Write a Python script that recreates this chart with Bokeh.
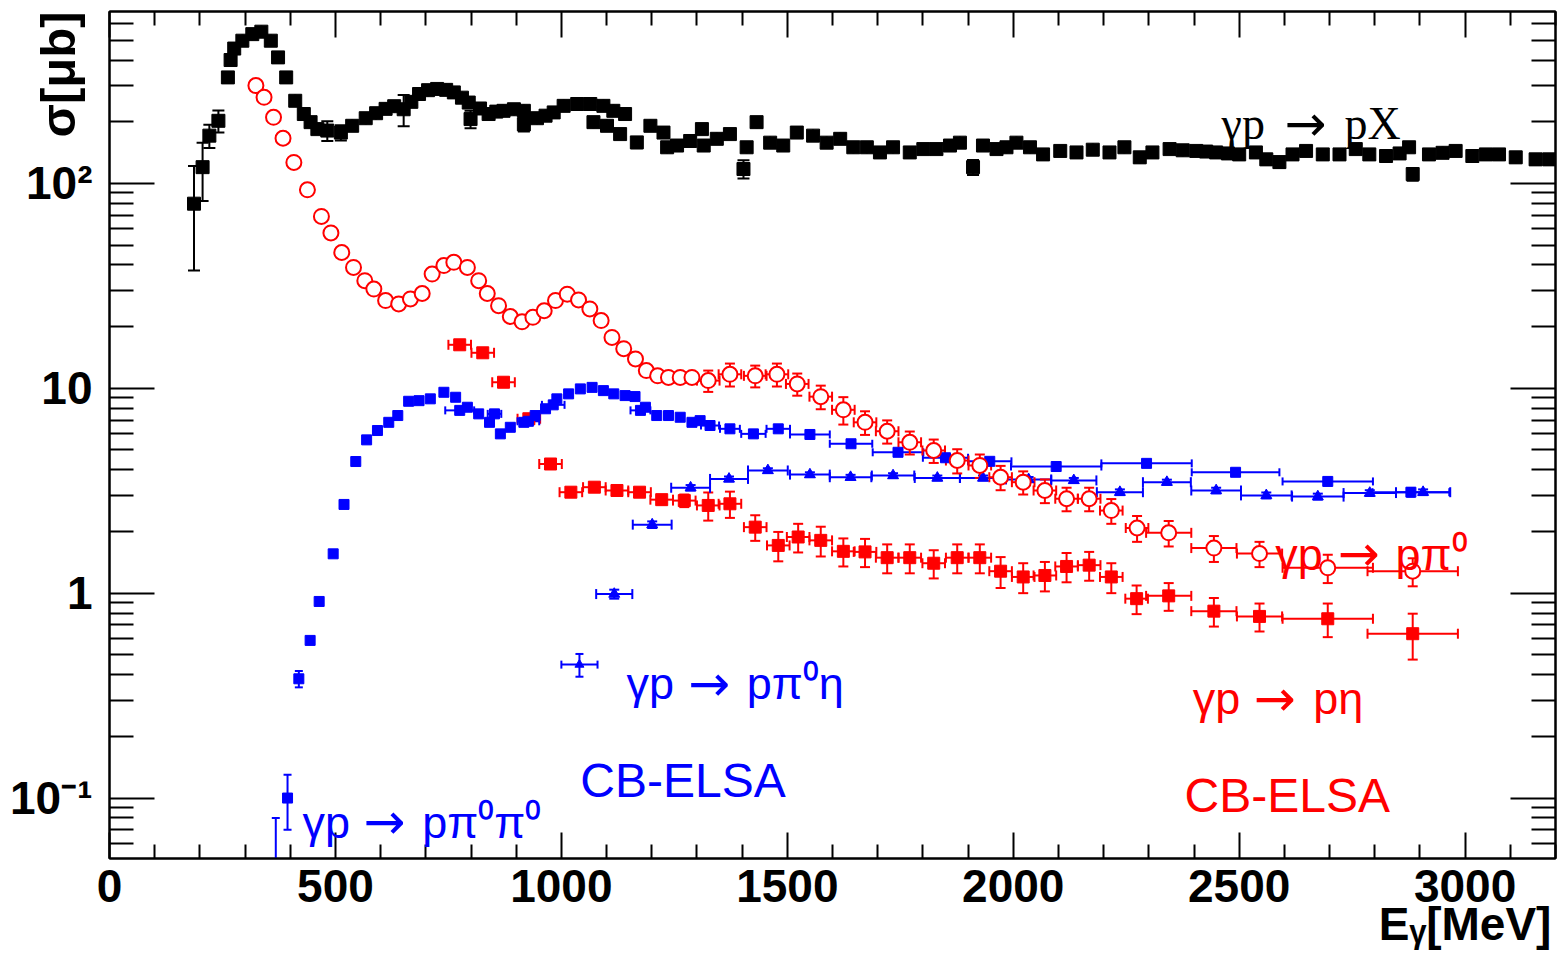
import math
from bokeh.plotting import figure
from bokeh.models import (ColumnDataSource, Whisker, TeeHead, Label, LogAxis,
                          LinearAxis, FixedTicker, Range1d, CustomJSTickFormatter)
from bokeh.embed import file_html
from bokeh.resources import INLINE

# ---------------------------------------------------------------- data
# gamma p -> p X  (total, black squares): energy [MeV], sigma [mub], error
px_e = [187, 206, 221, 241, 262, 268, 276, 294, 316, 336, 357, 373, 391, 411, 430,
        445, 460, 482, 512, 537, 567, 590, 611, 630, 651, 668, 685, 705, 725, 745,
        762, 780, 795, 799, 820, 839, 856, 872, 895, 917, 917, 946, 965, 983, 1005,
        1035, 1064, 1071, 1093, 1101, 1115, 1130, 1141, 1167, 1197, 1226, 1234, 1256,
        1285, 1311, 1315, 1344, 1373, 1403, 1410, 1432, 1462, 1491, 1521, 1557, 1587,
        1617, 1646, 1676, 1705, 1734, 1771, 1801, 1830, 1860, 1882, 1911, 1933, 1963,
        1985, 2007, 2037, 2066, 2104, 2140, 2176, 2213, 2246, 2280, 2308, 2346, 2375,
        2405, 2427, 2449, 2475, 2500, 2537, 2560, 2589, 2618, 2648, 2685, 2722, 2758,
        2788, 2825, 2855, 2876, 2884, 2920, 2950, 2979, 3016, 3046, 3075, 3112, 3156,
        3186]
px_s = [79.6, 120, 171, 202, 329, 400, 455, 497, 535, 550, 497, 412, 329, 253, 218,
        199, 184, 181, 177, 191, 208, 220, 231, 238, 230, 250, 273, 285, 289, 286,
        278, 262, 248, 206, 232, 218, 224, 226, 230, 226, 194, 208, 214, 222, 239,
        244, 244, 199, 239, 191, 226, 174, 218, 158.5, 191, 177, 150, 153,
        161, 184, 153, 165, 174, 117.5, 150, 199, 158, 153, 177, 171, 158,
        165, 150, 150, 141.6, 150, 141.6, 147, 147, 153, 158, 120, 153, 147,
        150, 158, 150, 138.5, 144, 141.6, 146, 141.6, 150, 134, 141.6, 147, 145,
        144, 143, 141.6, 140, 138.5, 141.6, 131, 127, 138.5, 144, 138.5, 138.5, 147,
        138.5, 136, 140, 150, 111, 138.5, 141, 144, 136, 138.5, 138.5, 134, 131,
        131]
px_err = [42, 38, 22, 25, 20, 15, 10, 8, 8, 8, 8, 8, 8, 8, 8,
          8, 8, 20, 15, 8, 8, 8, 8, 8, 40, 8, 8, 8, 8, 8,
          8, 8, 8, 20, 8, 8, 8, 8, 8, 8, 15, 8, 8, 8, 8,
          8, 8, 8, 8, 8, 8, 8, 8, 10, 8, 8, 8, 8,
          8, 8, 8, 8, 8, 12, 8, 10, 8, 8, 8, 8, 8,
          8, 8, 8, 8, 8, 8, 8, 8, 8, 8, 10, 8, 8,
          8, 8, 8, 8, 8, 8, 8, 8, 8, 8, 8, 8, 8,
          8, 8, 8, 8, 8, 8, 8, 8, 8, 8, 8, 8, 8,
          8, 8, 8, 8, 8, 8, 8, 8, 8, 8, 8, 8, 8,
          8]

# gamma p -> p pi0 (red open circles)
ppi0_e = [324, 342, 363, 384, 408, 438, 469, 490, 514, 540, 565, 585, 611, 640, 666,
          692, 714, 740, 762, 792, 817, 836, 861, 887, 913, 937, 962, 987, 1013, 1038,
          1063, 1088, 1112, 1138, 1164, 1188, 1213, 1237, 1263, 1289, 1325, 1373, 1429,
          1477, 1522, 1574, 1624, 1672, 1721, 1771, 1824, 1876, 1926, 1972, 2022, 2070,
          2118, 2168, 2217, 2274, 2344, 2444, 2545, 2696, 2884]
ppi0_s = [300, 263, 210, 166, 126.5, 93, 69, 57.3, 46, 38.9, 33.5, 30.5, 26.8, 25.8, 27.3,
          29, 36.1, 39.7, 41.2, 38.9, 33.5, 29, 25.3, 22.4, 21.1, 22.2, 23.9, 26.8, 28.8, 27,
          24.4, 21.4, 17.7, 15.6, 13.9, 12.2, 11.5, 11.3, 11.3, 11.3, 10.9, 11.7, 11.5,
          11.7, 10.5, 9.1, 7.85, 6.82, 6.17, 5.45, 4.97, 4.44, 4.2, 3.68, 3.48, 3.17,
          2.89, 2.89, 2.53, 2.08, 1.97, 1.66, 1.56, 1.33, 1.28]
ppi0_xerr = [12] * 40 + [25] * 20 + [50, 50, 50, 100, 100]
ppi0_yerr = ([0.0] * 40 +
             [1.3, 1.5, 1.4, 1.5, 1.3, 1.2, 1.2, 0.9, 0.8, 0.7, 0.65, 0.6, 0.55, 0.5, 0.45, 0.42,
              0.38, 0.38, 0.35, 0.3, 0.28, 0.24, 0.22, 0.21, 0.2])

# gamma p -> p eta (red filled squares)
peta_e = [775, 826, 872, 928, 976, 1021, 1073, 1123, 1173, 1222, 1272, 1325, 1373, 1429,
          1480, 1524, 1574, 1624, 1672, 1721, 1771, 1824, 1876, 1926, 1972, 2022, 2070,
          2118, 2168, 2217, 2273, 2344, 2444, 2545, 2696, 2884]
peta_s = [16.3, 14.9, 10.7, 7.1, 4.27, 3.11, 3.29, 3.17, 3.11, 2.86, 2.83, 2.68, 2.73, 2.1,
          1.71, 1.88, 1.81, 1.6, 1.59, 1.49, 1.49, 1.40, 1.49, 1.49, 1.28, 1.2, 1.22,
          1.35, 1.37, 1.2, 0.94, 0.97, 0.817, 0.77, 0.75, 0.634]
peta_xerr = [25] * 30 + [25, 50, 50, 50, 100, 100]
peta_yerr = [0.5, 0.5, 0.4, 0.3, 0.2, 0.15, 0.15, 0.15, 0.15, 0.15, 0.2, 0.42, 0.4, 0.3,
             0.28, 0.3, 0.3, 0.25, 0.25, 0.24, 0.24, 0.22, 0.24, 0.24, 0.22, 0.2, 0.2,
             0.22, 0.22, 0.2, 0.15, 0.15, 0.13, 0.12, 0.14, 0.16]

# gamma p -> p pi0 pi0 (blue squares)
p2pi_e = [368, 394, 419, 444, 464, 495, 519, 545, 569, 593, 618, 638, 662, 685, 710,
          740, 766, 792, 817, 841, 865, 887, 917, 942, 965, 990, 1016, 1042, 1068, 1093,
          1116, 1141, 1163, 1186, 1211, 1237, 1263, 1289, 1307,
          1329, 1373, 1425, 1480, 1550, 1641, 1745, 1850, 1948, 2095, 2295, 2492, 2696,
          2880, 775, 852, 927, 982, 1175]
p2pi_s = [0.03, 0.10, 0.382, 0.588, 0.911, 1.556, 2.71, 4.39, 5.6, 6.22, 6.82, 7.36, 8.64,
          8.7, 8.88, 9.56, 9.04, 8.08, 7.5, 6.82, 5.99, 6.45, 6.82, 7.36, 7.94, 8.88, 9.39,
          9.93, 10.1, 9.74, 9.39, 9.21, 9.11, 8.08, 7.36, 7.36, 7.22, 6.82, 6.95,
          6.58, 6.34, 5.99, 6.34, 5.95, 5.36, 4.87, 4.58, 4.40, 4.15, 4.30, 3.89, 3.51,
          3.11, 7.8, 7.5, 6.9, 8.3, 7.8]
p2pi_xerr = ([6] * 39 +
             [20, 22, 27, 26, 44, 47, 56, 50, 48, 100, 100, 97, 100, 85] +
             [32, 15, 24, 25, 22])
p2pi_yerr = ([0.05, 0.03, 0.035, 0.02, 0.02, 0.03, 0.05, 0.08, 0.1, 0.1, 0.1, 0.1, 0.1,
              0.1, 0.1, 0.1, 0.1, 0.1, 0.1, 0.1, 0.1, 0.1, 0.1, 0.1, 0.1, 0.1, 0.1, 0.1,
              0.1, 0.1, 0.1, 0.1, 0.1, 0.1, 0.1, 0.1, 0.1, 0.1, 0.1] +
             [0.15] * 14 + [0.15] * 5)

# gamma p -> p pi0 eta (blue triangles)
pieta_e = [1117, 1201, 1286, 1371, 1457, 1550, 1640, 1734, 1832, 1933, 2034, 2134, 2236,
           2340, 2449, 2560, 2674, 2789, 2907]
pieta_s = [0.99, 2.16, 3.27, 3.61, 3.97, 3.79, 3.68, 3.75, 3.65, 3.65, 3.59, 3.55, 3.11,
           3.48, 3.17, 3.0, 2.96, 3.08, 3.11]
pieta_xerr = [40, 43, 43, 42, 44, 44, 46, 47, 50, 51, 50, 50, 51, 53, 55, 56, 57, 58, 60]
pieta_yerr = [0.05, 0.08, 0.1, 0.1, 0.1, 0.1, 0.1, 0.1, 0.1, 0.1, 0.1, 0.1, 0.1, 0.1,
              0.1, 0.1, 0.1, 0.1, 0.1]

# legend entry marker for p pi0 eta
key_e = [1040]
key_s = [0.448]
key_xerr = [40]
key_yerr = [0.057]

x_major = [0, 500, 1000, 1500, 2000, 2500, 3000]
x_minor = [v for v in range(100, 3300, 100) if v % 500 != 0]
# the energy title sits right under the last energy label
x_labels = {3000: "3000\nE\u1d67[MeV]"}
y_major = [0.1, 1, 10, 100]
y_minor = ([k * 0.01 for k in range(6, 10)] + [k * 0.1 for k in range(2, 10)] +
           [float(k) for k in range(2, 10)] + [k * 10.0 for k in range(2, 10)] +
           [k * 100.0 for k in range(2, 7)])
y_labels = {0.1: "10\u207b\u00b9", 1: "1", 10: "10", 100: "10\u00b2"}

RED = "#ff0000"
BLUE = "#0000ff"
BLACK = "#000000"

# ---------------------------------------------------------------- figure
p = figure(width=1557, height=956, y_axis_type="log",
           x_range=Range1d(0, 3200), y_range=Range1d(0.0507, 690),
           output_backend="svg", toolbar_location=None,
           min_border_left=109, min_border_right=2, min_border_top=11,
           min_border_bottom=98)
p.xgrid.grid_line_color = None
p.ygrid.grid_line_color = None
p.outline_line_color = BLACK
p.outline_line_width = 2
p.background_fill_color = "white"
p.border_fill_color = "white"


def style_axis(ax, major_in, minor_in, show_labels):
    ax.major_tick_in = major_in
    ax.major_tick_out = 0
    ax.minor_tick_in = minor_in
    ax.minor_tick_out = 0
    ax.major_tick_line_width = 2
    ax.minor_tick_line_width = 2
    ax.major_tick_line_color = BLACK
    ax.minor_tick_line_color = BLACK
    ax.axis_line_width = 2
    ax.axis_line_color = BLACK
    if show_labels:
        ax.major_label_text_font = "Liberation Sans"
        ax.major_label_text_font_style = "bold"
        ax.major_label_text_font_size = "46px"
        ax.major_label_text_color = BLACK
        ax.axis_label_text_font = "Liberation Sans"
        ax.axis_label_text_font_style = "bold"
        ax.axis_label_text_font_size = "49px"
        ax.axis_label_text_color = BLACK
    else:
        # mirrored frame axis: ticks only
        ax.formatter = CustomJSTickFormatter(code="return ''")
        ax.major_label_text_font_size = "2px"
        ax.major_label_standoff = 0


def title_at_end(ax, orientation):
    # put the axis title at the far end of the axis, ending there
    for opt in ("end", "right"):
        try:
            ax.axis_label_align = opt
            break
        except Exception:
            continue
    try:
        ax.axis_label_orientation = orientation
    except Exception:
        pass


xt = FixedTicker(ticks=x_major, minor_ticks=x_minor)
yt = FixedTicker(ticks=y_major, minor_ticks=y_minor)

bottom = p.xaxis[0]
bottom.ticker = xt
style_axis(bottom, 26, 14, True)
bottom.major_label_standoff = 1
bottom.major_label_overrides = x_labels
bottom.major_label_text_line_height = 0.74

left = p.yaxis[0]
left.ticker = yt
style_axis(left, 45, 24, True)
left.major_label_standoff = 17
left.major_label_overrides = y_labels
left.axis_label = "\u03c3[\u03bcb]"
left.axis_label_standoff = -51
title_at_end(left, math.pi / 2)

top = LinearAxis(ticker=FixedTicker(ticks=x_major, minor_ticks=x_minor))
style_axis(top, 26, 14, False)
p.add_layout(top, "above")

right = LogAxis(ticker=FixedTicker(ticks=y_major, minor_ticks=y_minor))
style_axis(right, 45, 24, False)
p.add_layout(right, "right")


# ---------------------------------------------------------------- series
def error_bars(e, s, xerr, yerr, color, cap=10):
    lo = [max(v - d, 0.01) for v, d in zip(s, yerr)]
    hi = [v + d for v, d in zip(s, yerr)]
    src = ColumnDataSource(dict(
        x=e, y=s, ylo=lo, yhi=hi,
        xlo=[v - d for v, d in zip(e, xerr)], xhi=[v + d for v, d in zip(e, xerr)]))
    p.add_layout(Whisker(source=src, base="x", lower="ylo", upper="yhi",
                         dimension="height", line_color=color, line_width=2,
                         upper_head=TeeHead(size=cap, line_color=color, line_width=2),
                         lower_head=TeeHead(size=cap, line_color=color, line_width=2)))
    p.add_layout(Whisker(source=src, base="y", lower="xlo", upper="xhi",
                         dimension="width", line_color=color, line_width=2,
                         upper_head=TeeHead(size=cap, line_color=color, line_width=2),
                         lower_head=TeeHead(size=cap, line_color=color, line_width=2)))
    return src


# total cross section
src_px = error_bars(px_e, px_s, [0] * len(px_e), px_err, BLACK, cap=12)
p.scatter("x", "y", source=src_px, marker="square", size=13, color=BLACK)

# p eta
src_eta = error_bars(peta_e, peta_s, peta_xerr, peta_yerr, RED)
p.scatter("x", "y", source=src_eta, marker="square", size=12, color=RED)

# p pi0 pi0
src_2pi = error_bars(p2pi_e, p2pi_s, p2pi_xerr, p2pi_yerr, BLUE, cap=8)
p.scatter("x", "y", source=src_2pi, marker="square", size=10, color=BLUE)

# p pi0 eta
src_pieta = error_bars(pieta_e, pieta_s, pieta_xerr, pieta_yerr, BLUE)
p.scatter("x", "y", source=src_pieta, marker="triangle", size=11, color=BLUE)

# p pi0
src_pi0 = error_bars(ppi0_e, ppi0_s, ppi0_xerr, ppi0_yerr, RED)
p.scatter("x", "y", source=src_pi0, marker="circle", size=15, line_color=RED,
          fill_color="white", line_width=2)

# key marker next to the p pi0 eta label
src_key = error_bars(key_e, key_s, key_xerr, key_yerr, BLUE, cap=8)
p.scatter("x", "y", source=src_key, marker="triangle", size=9, color=BLUE)


# ---------------------------------------------------------------- texts
def label(x, y, text, color, size, font="Liberation Sans", style="normal"):
    p.add_layout(Label(x=x, y=y, text=text, text_color=color, text_font=font,
                       text_font_size=size, text_font_style=style,
                       text_align="left", text_baseline="alphabetic"))


def reaction(x_left, x_arrow, x_right, y, left_txt, right_txt, color, size="45px",
             font="Liberation Sans"):
    label(x_left, y, left_txt, color, size, font=font)
    label(x_arrow, y, "\u2192", color, "50px", font="DejaVu Sans")
    label(x_right, y, right_txt, color, size, font=font)


reaction(2461, 2600, 2733, 195.5, "\u03b3p", "pX", BLACK, size="46px",
         font="Liberation Serif")
reaction(2580, 2718, 2846, 1.55, "\u03b3p", "p\u03c0\u2070", RED)
reaction(2397, 2532, 2664, 0.306, "\u03b3p", "p\u03b7", RED)
reaction(1144, 1281, 1410, 0.361, "\u03b3p", "p\u03c0\u2070\u03b7", BLUE)
reaction(427, 562, 692, 0.0764, "\u03b3p", "p\u03c0\u2070\u03c0\u2070", BLUE)
label(2379, 0.103, "CB-ELSA", RED, "48px")
label(1042, 0.122, "CB-ELSA", BLUE, "48px")

open("out.html", "w").write(file_html(p, INLINE))
